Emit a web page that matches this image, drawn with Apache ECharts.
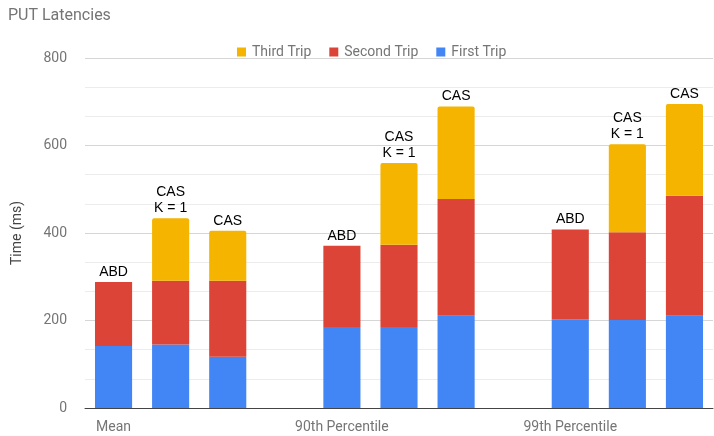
<!DOCTYPE html>
<html>
<head>
<meta charset="utf-8">
<script src="https://cdn.jsdelivr.net/npm/echarts@6/dist/echarts.min.js"></script>
<style>
  html, body { margin: 0; padding: 0; background: #fff; }
  #myChart { width: 714px; height: 436px; }
</style>
</head>
<body>
<div id="myChart"></div>
<script>
// slots: 3 bars per group, an empty slot between groups
var categories = ['Mean', '', '', '', '90th Percentile', '', '', '', '99th Percentile', '', ''];
var barLabels = ['ABD', 'CAS\nK = 1', 'CAS', '', 'ABD', 'CAS\nK = 1', 'CAS', '', 'ABD', 'CAS\nK = 1', 'CAS'];
var firstTrip = [142, 145, 117, '-', 185, 185, 211, '-', 203, 201, 211];
var secondTrip = [146, 146, 174, '-', 186, 188, 267, '-', 205, 201, 274];
var thirdTrip = [0, 143, 114, '-', 0, 187, 211, '-', 0, 201, 210];
var yTicks = [0, 200, 400, 600, 800];

var myChart = echarts.init(document.getElementById('myChart'));
var font = 'Roboto, "Noto Sans", sans-serif';

var option = {
  animation: false,
  color: ['#4285F4', '#DB4437', '#F4B400'],
  textStyle: { fontFamily: font },
  title: {
    text: 'PUT Latencies',
    left: 3,
    top: 3,
    textStyle: { color: '#757575', fontSize: 16, fontWeight: 'normal', fontFamily: font }
  },
  legend: {
    data: ['Third Trip', 'Second Trip', 'First Trip'],
    left: 232,
    top: 40,
    icon: 'rect',
    itemWidth: 9,
    itemHeight: 9,
    itemGap: 18,
    textStyle: { color: '#757575', fontSize: 14, padding: [0, 0, 0, 1] }
  },
  grid: {
    left: 85,
    right: 1,
    top: 58,
    bottom: 28
  },
  xAxis: {
    type: 'category',
    data: categories,
    axisTick: { show: false },
    axisLine: { lineStyle: { color: '#444' } },
    axisLabel: { interval: 0, color: '#757575', fontSize: 14, margin: 12 }
  },
  yAxis: {
    type: 'value',
    min: yTicks[0],
    max: yTicks[yTicks.length - 1],
    interval: 200,
    name: 'Time (ms)',
    nameLocation: 'middle',
    nameGap: 61,
    nameTextStyle: { color: '#444', fontSize: 14 },
    axisLine: { show: false },
    axisTick: { show: false },
    axisLabel: { color: '#757575', fontSize: 14, margin: 18 },
    splitLine: { lineStyle: { color: '#d6d6d6' } },
    minorTick: { show: false, splitNumber: 3 },
    minorSplitLine: { show: true, lineStyle: { color: '#ececec' } }
  },
  series: [{
    name: 'First Trip',
    type: 'bar',
    stack: 'trip',
    barWidth: '65%',
    data: firstTrip
  }, {
    name: 'Second Trip',
    type: 'bar',
    stack: 'trip',
    data: secondTrip
  }, {
    name: 'Third Trip',
    type: 'bar',
    stack: 'trip',
    data: thirdTrip,
    itemStyle: { borderRadius: [2, 2, 0, 0] },
    label: {
      show: true,
      position: 'top',
      distance: 2,
      color: '#000',
      fontSize: 14,
      lineHeight: 16,
      fontFamily: '"Liberation Sans", Arial, sans-serif',
      formatter: function (p) { return barLabels[p.dataIndex]; }
    }
  }]
};
myChart.setOption(option);
</script>
</body>
</html>
